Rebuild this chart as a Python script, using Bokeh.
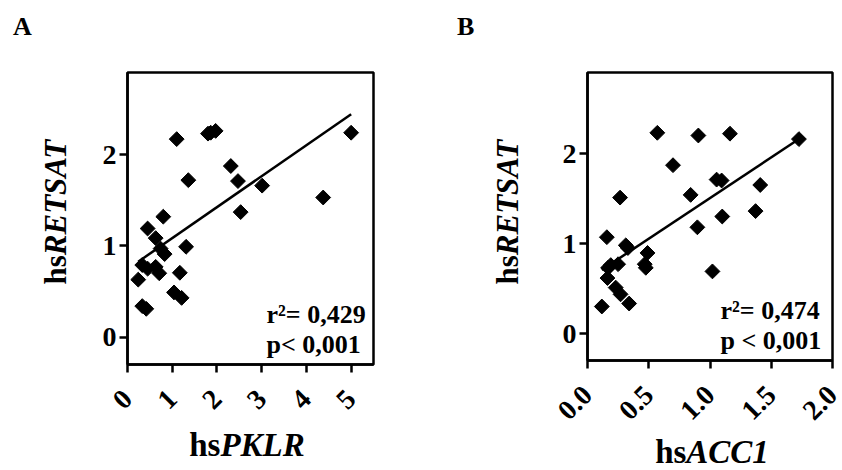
import numpy as np
from bokeh.plotting import figure
from bokeh.models import Label, FixedTicker, ColumnDataSource, Div
from bokeh.layouts import row, column
from bokeh.embed import file_html
from bokeh.resources import INLINE

# ---------------- data ----------------
x_pklr = [1.10, 1.80, 1.86, 1.97, 5.00, 2.31, 1.36, 2.47, 3.01, 4.375, 2.53, 0.80, 0.45, 0.63,
          0.74, 0.83, 1.31, 0.33, 0.45, 0.63, 0.71, 1.17, 0.24, 1.04, 1.21, 0.33, 0.42]
y_retsat_a = [2.17, 2.23, 2.24, 2.26, 2.24, 1.875, 1.72, 1.71, 1.66, 1.53, 1.37, 1.32, 1.19, 1.085,
              0.97, 0.91, 0.99, 0.79, 0.75, 0.77, 0.70, 0.705, 0.63, 0.49, 0.43, 0.34, 0.31]

x_acc1 = [0.57, 0.905, 1.163, 1.726, 0.698, 1.054, 1.095, 1.41, 0.266, 0.842, 1.372, 1.10, 0.897, 0.158,
          0.3125, 0.33, 0.49, 0.467, 0.476, 0.168, 0.19, 0.25, 0.163, 1.02, 0.23, 0.27, 0.34, 0.117]
y_retsat_b = [2.23, 2.20, 2.22, 2.16, 1.87, 1.71, 1.70, 1.65, 1.51, 1.54, 1.36, 1.30, 1.18, 1.07,
              0.98, 0.95, 0.895, 0.77, 0.73, 0.73, 0.76, 0.77, 0.616, 0.69, 0.51, 0.435, 0.333, 0.30]

xticks_a = [0, 1, 2, 3, 4, 5]
xtick_labels_a = ["0", "1", "2", "3", "4", "5"]
xticks_b = [0, 0.5, 1.0, 1.5, 2.0]
xtick_labels_b = ["0.0", "0.5", "1.0", "1.5", "2.0"]
yticks = [0, 1, 2]
ytick_labels = ["0", "1", "2"]

stats_a = ["r\u00b2= 0,429", "p< 0,001"]
stats_b = ["r\u00b2= 0,474", "p < 0,001"]
gene_y = "RETSAT"

FONT = "Liberation Serif"
CSSFONT = "font-family:'Liberation Serif',serif;font-weight:bold;color:black;"


def make_panel(xs, ys, xr, yr, col_w, ylab_w, top_h, fig_h, frame, xticks, xlabels,
               gene_x, letter, stats, col_x, letter_left, stat_left, stat_mid,
               xlab_cx, xlab_base, ylab_cx, ylab_cy):
    # frame given in page pixels: left, top, width, height
    fl, ft, fw, fh = frame
    fig_x = col_x + ylab_w
    fig_w = col_w - ylab_w
    left = fl - fig_x
    top = ft - top_h
    p = figure(width=fig_w, height=fig_h, x_range=xr, y_range=yr,
               output_backend="svg", toolbar_location=None,
               min_border_left=left, min_border_top=top,
               min_border_right=fig_w - left - fw, min_border_bottom=fig_h - top - fh)
    p.xgrid.visible = False
    p.ygrid.visible = False
    p.background_fill_color = "white"
    p.border_fill_color = "white"
    p.outline_line_color = "black"
    p.outline_line_width = 2.5
    p.outline_line_alpha = 1.0

    for ax in (p.xaxis[0], p.yaxis[0]):
        ax.axis_line_width = 2.5
        ax.major_tick_line_width = 2.5
        ax.major_tick_in = 0
        ax.major_tick_out = 8
        ax.minor_tick_line_color = None
        ax.major_label_text_font = FONT
        ax.major_label_text_font_style = "bold"
        ax.major_label_text_font_size = "28px"
        ax.major_label_text_color = "black"
        ax.major_label_standoff = 3
    p.xaxis[0].ticker = FixedTicker(ticks=xticks)
    p.xaxis[0].major_label_overrides = {t: l for t, l in zip(xticks, xlabels)}
    p.xaxis[0].major_label_orientation = np.pi / 4
    p.xaxis[0].major_label_standoff = 22
    p.yaxis[0].ticker = FixedTicker(ticks=yticks)
    p.yaxis[0].major_label_overrides = {t: l for t, l in zip(yticks, ytick_labels)}

    # regression line from the data
    slope, icpt = np.polyfit(np.array(xs), np.array(ys), 1)
    lx = [min(xs), max(xs)]
    ly = [icpt + slope * v for v in lx]
    p.line(lx, ly, line_color="black", line_width=2.5)

    src = ColumnDataSource(dict(x=xs, y=ys))
    p.scatter("x", "y", source=src, marker="square", size=10.5, angle=np.pi / 4,
              fill_color="black", line_color="black")

    def dx(px):
        return xr[0] + (px - fl) / fw * (xr[1] - xr[0])

    def dy(py):
        return yr[1] - (py - ft) / fh * (yr[1] - yr[0])

    for t, m in zip(stats, stat_mid):
        p.add_layout(Label(x=dx(stat_left), y=dy(m), text=t, text_font=FONT,
                           text_font_style="bold", text_font_size="26px",
                           text_align="left", text_baseline="middle",
                           text_color="black"))

    # panel letter
    d_letter = Div(text=(f'<div style="{CSSFONT}font-size:26px;line-height:26px;'
                         f'padding-left:{letter_left - col_x}px;padding-top:14px;">{letter}</div>'),
                   width=col_w, height=top_h, margin=0)
    # y label (rotated)
    iw = 2 * (ylab_cx - col_x)
    ih = 2 * (ylab_cy - top_h)
    d_ylab = Div(text=(f'<div style="width:{iw}px;height:{ih}px;display:flex;align-items:center;'
                       f'justify-content:center;"><div style="transform:rotate(-90deg);'
                       f'white-space:nowrap;{CSSFONT}font-size:31px;">hs<i>{gene_y}</i></div></div>'),
                 width=ylab_w, height=fig_h, margin=0)
    # x label
    bot_h = 470 - top_h - fig_h
    pl = 2 * (xlab_cx - col_x) - col_w
    pt = xlab_base - (top_h + fig_h) - 28
    d_xlab = Div(text=(f'<div style="box-sizing:border-box;width:{col_w}px;text-align:center;'
                       f'padding-left:{pl}px;padding-top:{pt}px;white-space:nowrap;{CSSFONT}'
                       f'font-size:33px;line-height:33px;">hs<i>{gene_x}</i></div>'),
                 width=col_w, height=bot_h, margin=0)
    return column(d_letter, row(d_ylab, p), d_xlab)


colA = make_panel(x_pklr, y_retsat_a, (0, 5.5), (-0.3, 2.9), 430, 80, 50, 370,
                  (127, 72, 246, 293), xticks_a, xtick_labels_a, "PKLR", "A", stats_a,
                  0, 13, 266, [315, 345], 247, 457, 56, 212)
colB = make_panel(x_acc1, y_retsat_b, (0, 2.0), (-0.3, 2.9), 412, 96, 50, 380,
                  (587, 72, 245, 295), xticks_b, xtick_labels_b, "ACC1", "B", stats_b,
                  430, 457, 720, [316, 347], 712, 464, 508, 212)

layout = row(colA, colB)
open("out.html", "w").write(file_html(layout, INLINE))
